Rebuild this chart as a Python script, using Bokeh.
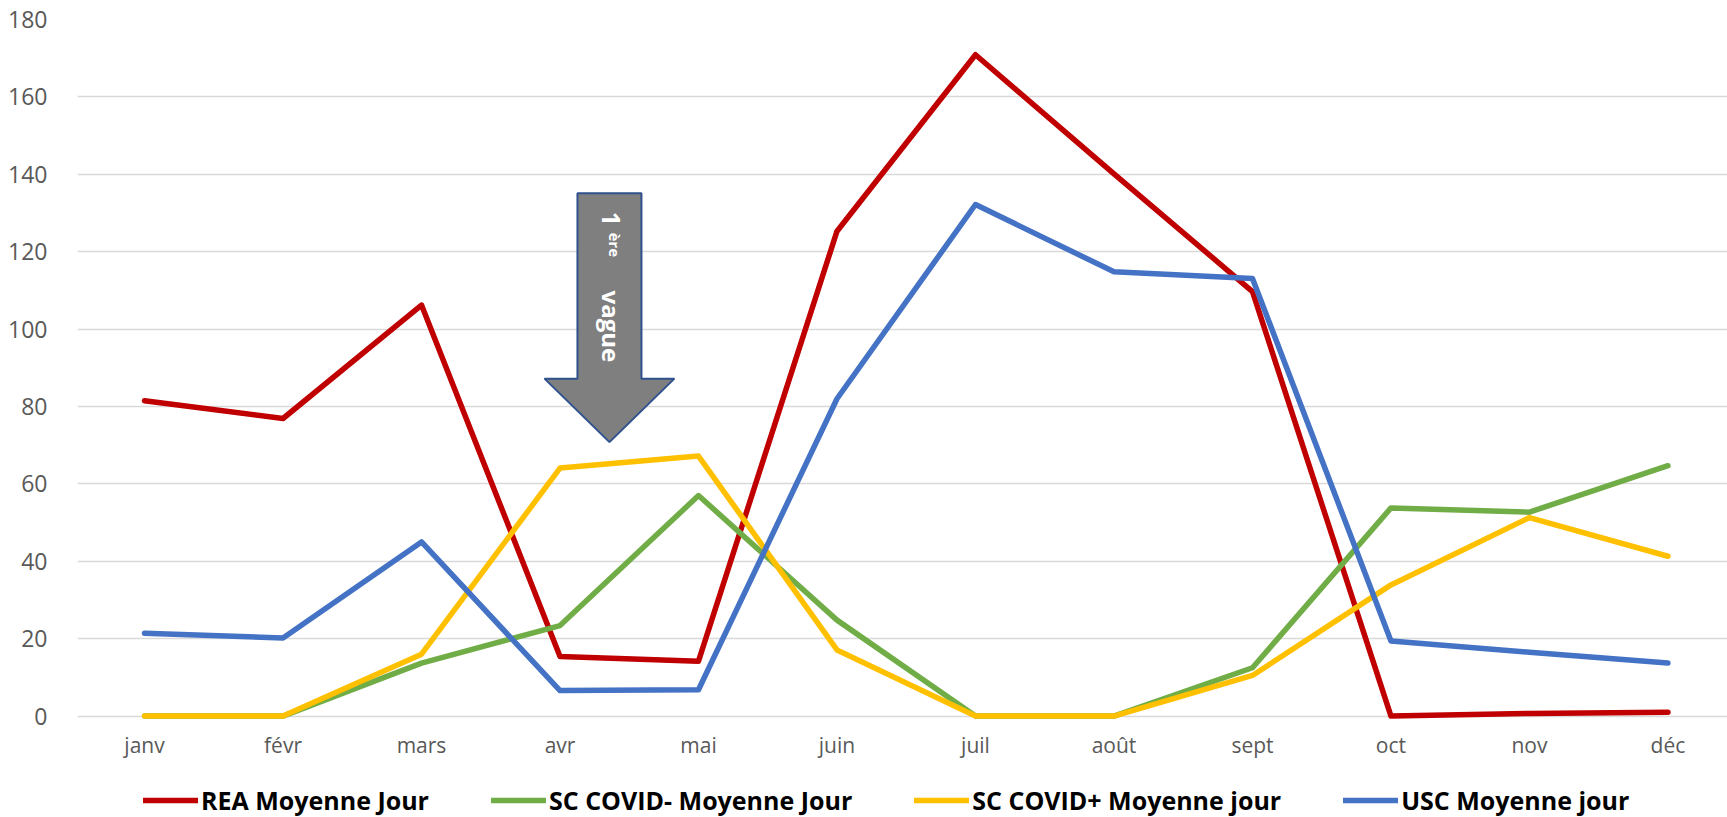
import math
from bokeh.plotting import figure
from bokeh.models import Range1d, FixedTicker, Legend, LegendItem
from bokeh.core.properties import value
from bokeh.embed import file_html
from bokeh.resources import INLINE

months = ["janv", "févr", "mars", "avr", "mai", "juin", "juil", "août", "sept", "oct", "nov", "déc"]
rea = [81.5, 76.9, 106.2, 15.4, 14.2, 125.3, 170.9, 140.1, 109.7, 0.0, 0.7, 1.0]
sc_covid_neg = [0.0, 0.0, 13.7, 23.4, 57.0, 24.8, 0.0, 0.0, 12.5, 53.8, 52.7, 64.7]
sc_covid_pos = [0.0, 0.0, 16.0, 64.1, 67.2, 17.1, 0.0, 0.0, 10.5, 33.9, 51.3, 41.3]
usc = [21.4, 20.2, 45.0, 6.6, 6.8, 82.0, 132.2, 114.8, 113.1, 19.4, 16.5, 13.7]

series_names = ["REA Moyenne Jour", "SC COVID- Moyenne Jour", "SC COVID+ Moyenne jour", "USC Moyenne jour"]
series_values = [rea, sc_covid_neg, sc_covid_pos, usc]
series_colors = ["#C00000", "#70AD47", "#FFC000", "#4472C4"]
y_ticks = [0, 20, 40, 60, 80, 100, 120, 140, 160, 180]

FONT = "Open Sans"
x_idx = list(range(len(months)))

p = figure(width=1727, height=817, output_backend="svg", toolbar_location=None,
           x_range=Range1d(-0.484, 11.43), y_range=Range1d(-26.2, 180),
           min_border_left=77, min_border_right=0, min_border_top=19, min_border_bottom=0)
p.outline_line_color = None
p.background_fill_color = "white"

# axes
p.xaxis.ticker = FixedTicker(ticks=x_idx)
p.xaxis.major_label_overrides = {i: m for i, m in enumerate(months)}
p.xaxis.fixed_location = 0
p.yaxis.ticker = FixedTicker(ticks=y_ticks)
for ax in (p.xaxis[0], p.yaxis[0]):
    ax.axis_line_color = None
    ax.major_tick_line_color = None
    ax.minor_tick_line_color = None
    ax.major_label_text_color = "#595959"
    ax.major_label_text_font = FONT
p.xaxis.major_label_text_font_size = "21px"
p.yaxis.major_label_text_font_size = "23px"
p.xaxis.major_label_standoff = 9
p.yaxis.major_label_standoff = 24
p.xgrid.grid_line_color = None
p.ygrid.ticker = FixedTicker(ticks=y_ticks)
p.ygrid.grid_line_color = "#D9D9D9"
p.ygrid.grid_line_width = 1.5

# arrow annotation "1ère vague"
AX = 3.357
SHAFT_HALF = 0.231
HEAD_HALF = 0.469
TOP_Y = 135.1
HEAD_Y = 87.2
TIP_Y = 70.8
p.patch(x=[AX - SHAFT_HALF, AX + SHAFT_HALF, AX + SHAFT_HALF, AX + HEAD_HALF, AX,
           AX - HEAD_HALF, AX - SHAFT_HALF],
        y=[TOP_Y, TOP_Y, HEAD_Y, HEAD_Y, TIP_Y, HEAD_Y, HEAD_Y],
        fill_color="#7F7F7F", line_color="#2F528F", line_width=2)
p.text(x=[3.365], y=[128.5], text=["1"], angle=-math.pi / 2,
       text_font=value(FONT), text_font_style="bold", text_font_size="25px",
       text_color="white", text_align="center", text_baseline="middle")
p.text(x=[3.40], y=[121.8], text=["ère"], angle=-math.pi / 2,
       text_font=value(FONT), text_font_style="bold", text_font_size="15px",
       text_color="white", text_align="center", text_baseline="middle")
p.text(x=[3.372], y=[100.7], text=["vague"], angle=-math.pi / 2,
       text_font=value(FONT), text_font_style="bold", text_font_size="24px",
       text_color="white", text_align="center", text_baseline="middle")

# series
renderers = []
for name, vals, col in zip(series_names, series_values, series_colors):
    r = p.line(x=x_idx, y=vals, line_color=col, line_width=5.5,
               line_join="round", line_cap="round")
    renderers.append(r)

legend = Legend(items=[LegendItem(label=n, renderers=[r]) for n, r in zip(series_names, renderers)],
                orientation="horizontal", location=(66, 0),
                glyph_width=55, glyph_height=20, label_standoff=3, spacing=62,
                label_text_font=FONT, label_text_font_style="bold",
                label_text_font_size="25px", label_text_color="black",
                padding=0, margin=0, border_line_color=None, background_fill_alpha=0)
p.add_layout(legend, "center")

open("out.html", "w").write(file_html(p, INLINE))
